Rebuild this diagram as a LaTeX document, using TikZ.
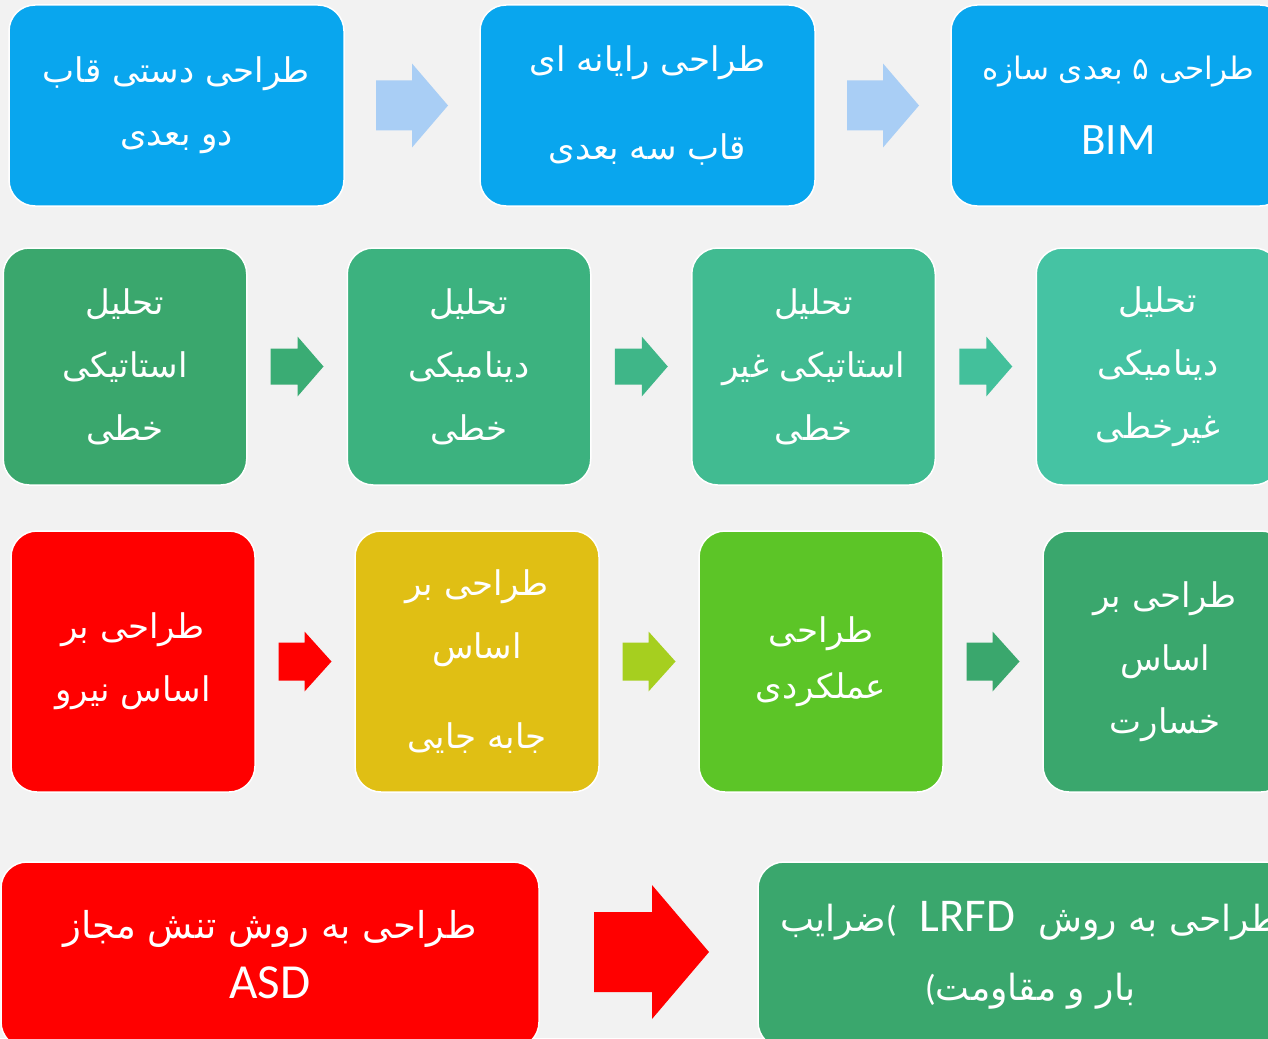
\documentclass[tikz,border=0pt]{standalone}
\usepackage{fontspec}
\usetikzlibrary{calc}
\setmainfont{Carlito}
\newfontfamily\farsi[Script=Arabic]{DejaVu Sans}
\newfontfamily\latin{Carlito}
\TeXXeTstate=1
\newcommand{\pers}[1]{{\farsi\beginR #1\endR}}
\definecolor{paper}{HTML}{F2F2F2}
\definecolor{skyblue}{HTML}{09A6EE}
\definecolor{paleblue}{HTML}{A9CEF5}
\definecolor{greenA}{HTML}{3AA76D}
\definecolor{greenB}{HTML}{3CB27F}
\definecolor{greenC}{HTML}{41BB91}
\definecolor{greenD}{HTML}{45C3A3}
\definecolor{arrowAB}{HTML}{3AAC74}
\definecolor{arrowBC}{HTML}{3FB688}
\definecolor{arrowCD}{HTML}{43C09B}
\definecolor{mustard}{HTML}{E0BF14}
\definecolor{lime}{HTML}{5CC527}
\definecolor{limearrow}{HTML}{A6CF1F}
\definecolor{purered}{HTML}{FF0000}
\tikzset{
  box/.style={draw=white,line width=1.5pt,rounded corners=26pt,text=white,
    align=center,inner sep=0pt,font=\fontsize{34}{63}\selectfont},
  pics/barrow/.style n args={5}{code={
    \fill[#5] (-#1/2,-#3) -- (#1/2-#2,-#3) -- (#1/2-#2,-#4) -- (#1/2,0)
      -- (#1/2-#2,#4) -- (#1/2-#2,#3) -- (-#1/2,#3) -- cycle;}}
}
\begin{document}
\begin{tikzpicture}[x=1pt,y=-1pt]
\useasboundingbox (0,0) rectangle (1268,1038);
\clip (0,0) rectangle (1268,1038);
\fill[paper] (0,0) rectangle (1268,1038);
% row 1: frame design
\node[box,fill=skyblue,minimum width=335,minimum height=201] (hand) at (176.5,105.5)
  {\pers{طراحی دستی قاب}\\ \pers{دو بعدی}};
\node[box,fill=skyblue,minimum width=335,minimum height=201,font=\fontsize{34}{88}\selectfont] (comp) at (647.5,105.5)
  {\pers{طراحی رایانه ای}\\ \pers{قاب سه بعدی}};
\node[box,fill=skyblue,minimum width=335,minimum height=201,font=\fontsize{31}{75}\selectfont] (bim) at (1118.5,105.5)
  {\pers{طراحی ۵ بعدی سازه}\\ {\fontsize{45}{75}\selectfont BIM}};
% row 2: analysis
\foreach \n/\x/\c/\a/\b/\t in {linst/125/greenA/تحلیل/استاتیکی/خطی,
    lindyn/469/greenB/تحلیل/دینامیکی/خطی,
    nlst/813.5/greenC/تحلیل/استاتیکی غیر/خطی,
    nldyn/1158/greenD/تحلیل/دینامیکی/غیرخطی}
  \node[box,fill=\c,minimum width=243.5,minimum height=237] (\n) at (\x,366.5)
    {\pers{\a}\\ \pers{\b}\\ \pers{\t}};
% row 3: design basis
\node[box,fill=purered,minimum width=244,minimum height=261] (force) at (133,661.5)
  {\pers{طراحی بر}\\ \pers{اساس نیرو}};
\node[box,fill=mustard,minimum width=244,minimum height=261] (disp) at (477,661.5)
  {\pers{طراحی بر}\\ \pers{اساس}\\[27pt] \pers{جابه جایی}};
\node[box,fill=lime,minimum width=244,minimum height=261,font=\fontsize{34}{56}\selectfont] (perf) at (821,661.5)
  {\pers{طراحی}\\ \pers{عملکردی}};
\node[box,fill=greenA,minimum width=244,minimum height=261] (dmg) at (1165,661.5)
  {\pers{طراحی بر}\\ \pers{اساس}\\ \pers{خسارت}};
% row 4: code methods
\node[box,fill=purered,minimum width=538,minimum height=186,font=\fontsize{37}{60}\selectfont] (asd) at (270,955)
  {\pers{طراحی به روش تنش مجاز}\\ {\fontsize{49}{60}\selectfont ASD}};
\node[box,fill=greenA,minimum width=544,minimum height=186,font=\fontsize{36}{69}\selectfont] (lrfd) at (1030,955)
  {\pers{طراحی به روش\ \ \beginL{\latin\fontsize{47}{69}\selectfont LRFD}\endL\ \ \beginL{\latin(}\endL{}ضرایب}\\
   \pers{بار و مقاومت\beginL{\latin(}\endL}};
% block arrows
\pic at ($(hand.east)!.5!(comp.west)$) {barrow={72}{36}{25}{42}{paleblue}};
\pic at ($(comp.east)!.5!(bim.west)$) {barrow={72}{36}{25}{42}{paleblue}};
\pic at ($(linst.east)!.5!(lindyn.west)$) {barrow={53}{26}{18}{30}{arrowAB}};
\pic at ($(lindyn.east)!.5!(nlst.west)$) {barrow={53}{26}{18}{30}{arrowBC}};
\pic at ($(nlst.east)!.5!(nldyn.west)$) {barrow={53}{26}{18}{30}{arrowCD}};
\pic at ($(force.east)!.5!(disp.west)$) {barrow={53}{27}{19}{30}{purered}};
\pic at ($(disp.east)!.5!(perf.west)$) {barrow={53}{27}{19}{30}{limearrow}};
\pic at ($(perf.east)!.5!(dmg.west)$) {barrow={53}{27}{19}{30}{greenA}};
\pic at ($(asd.east)!.5!(lrfd.west)+(3,-3)$) {barrow={115}{57}{40}{67}{purered}};
\end{tikzpicture}
\end{document}
